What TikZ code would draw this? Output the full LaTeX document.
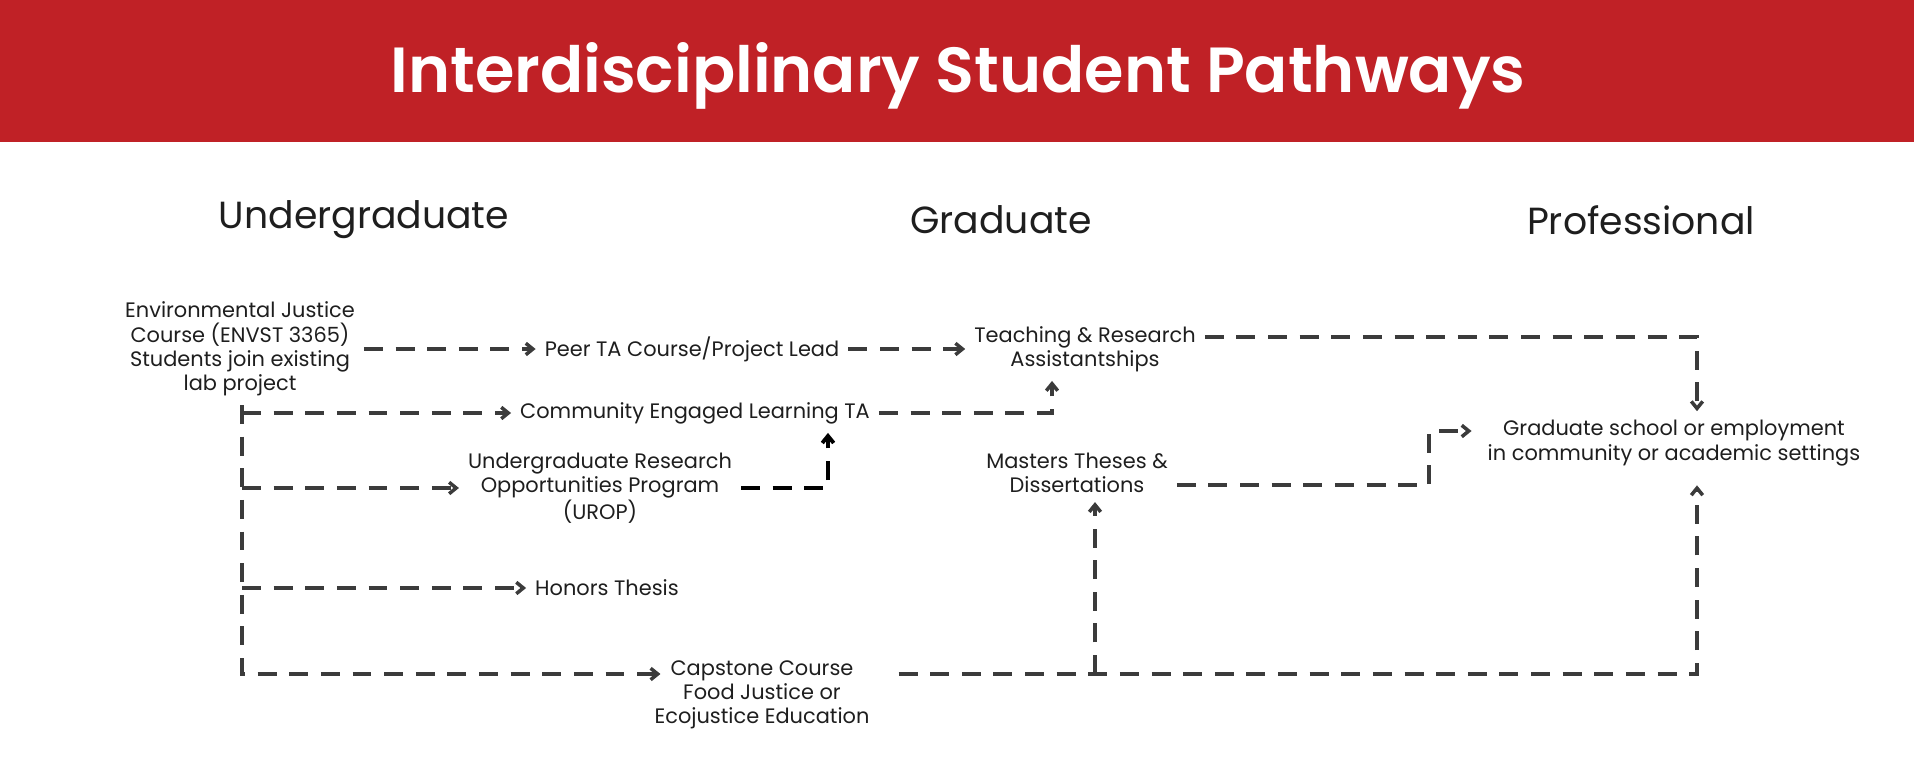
\documentclass[tikz,border=0pt]{standalone}
\usepackage{fontspec}
\setmainfont{Poppins}
\newfontfamily\titlefont{Poppins SemiBold}
\usepackage{xcolor}
\usepackage{tikz}
\usetikzlibrary{arrows, arrows.meta, positioning, calc}
\definecolor{path-red}{HTML}{C02126}
\definecolor{path-grey}{HTML}{3B3B3B}
\definecolor{path-ink}{HTML}{1E1E1E}

\begin{document}
\begin{tikzpicture}[
    x=0.02cm, y=-0.02cm,
    stage/.style={font=\fontsize{21.5}{25}\selectfont, text=path-ink},
    item/.style={align=center, inner sep=5pt, font=\fontsize{11.9}{13.8}\selectfont, text=path-ink},
    link/.style={-{Straight Barb[length=4pt,width=6.5pt]}, path-grey, line width=2pt, dash pattern=on 10.8pt off 7.2pt},
    urop link/.style={link, black, line width=2.2pt}
]
    \useasboundingbox (0,0) rectangle (1914,784);
    \fill[path-red] (0,0) rectangle (1914,142);
    \node (title) at (958,76) [text=white, font=\fontsize{36.3}{40}\selectfont\titlefont] {Interdisciplinary Student Pathways};

    \node (ug) [stage] at (364,220) {Undergraduate};
    \node (gr) [stage] at (1001,220) {Graduate};
    \node (pro) [stage] at (1641,220) {Professional};

    \node (ej) [item] at (240,349) {Environmental Justice\\Course (ENVST 3365)\\Students join existing\\lab project};
    \node (peer) [item] at (692,349) {Peer TA Course/Project Lead};
    \node (teach) [item] at (1085,349) {Teaching \& Research\\Assistantships};
    \node (cel) [item] at (695,413) {Community Engaged Learning TA};
    \node (urop) [item] at (600,488) {Undergraduate Research\\Opportunities Program\\(UROP)};
    \node (hon) [item] at (607,588) {Honors Thesis};
    \node (cap) [item] at (762,695) {Capstone Course\\Food Justice or\\Ecojustice Education};
    \node (mast) [item] at (1077,473) {Masters Theses \&\\Dissertations};
    \node (grad) [item] at (1674,443) {Graduate school or employment\\in community or academic settings};

    % bends and entry points
    \coordinate (trunk) at (242,405);
    \coordinate (capline) at ([yshift=0.42cm,xshift=0.4cm]cap.east);
    \coordinate (capin) at ([yshift=0.42cm,xshift=0.3cm]cap.west);
    \coordinate (mastin) at ([xshift=0.36cm]mast.south);
    \coordinate (mastbend) at (1429,0);
    \coordinate (gradtop) at ([xshift=0.46cm]grad.north);
    \coordinate (gradbot) at ([xshift=0.46cm]grad.south);
    \coordinate (gradin) at ([yshift=0.24cm]grad.west);
    \coordinate (teachin) at ([xshift=-0.66cm]teach.south);
    \coordinate (celin) at ([xshift=2.66cm]cel.south);

    \draw [link] (ej.east) -- (peer.west);
    \draw [link] (peer.east) -- (teach.west);
    \draw [link] ([yshift=0.24cm]teach.east) -| (gradtop);

    \draw [link] (trunk) |- (capin);
    \draw [link] (trunk |- cel.west) -- (cel.west);
    \draw [link] (trunk |- urop.west) -- (urop.west);
    \draw [link] (trunk |- hon.west) -- (hon.west);

    \draw [link] (cel.east) -| (teachin);
    \draw [urop link] (urop.east) -| (celin);
    \draw [link, shorten >=4pt] ([yshift=-0.24cm]mast.east) -| (mastbend |- gradin) -- (gradin);
    \draw [link, shorten >=6pt] (capline) -| (gradbot);
    \draw [link] (capline -| mastin) -- (mastin);
\end{tikzpicture}
\end{document}
